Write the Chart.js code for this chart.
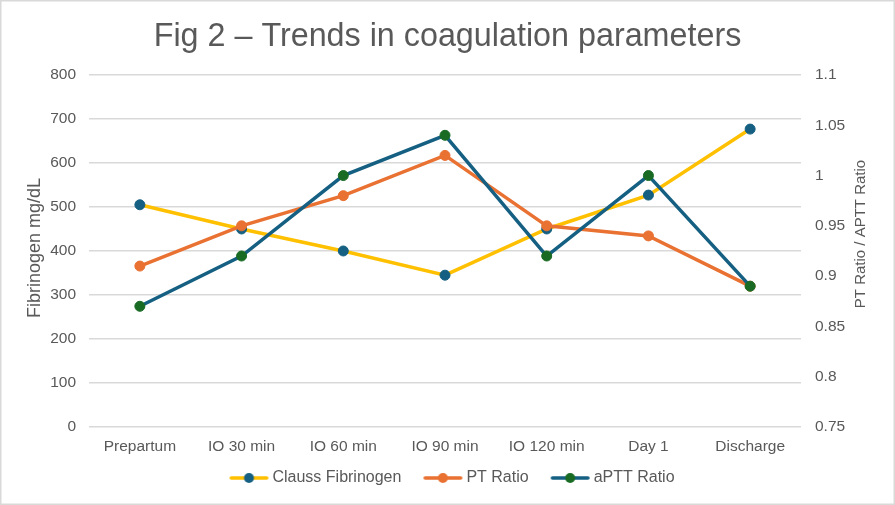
<!DOCTYPE html>
<html>
<head>
<meta charset="utf-8">
<title>Fig 2 – Trends in coagulation parameters</title>
<script src="https://cdn.jsdelivr.net/npm/chart.js@4.4.1/dist/chart.umd.min.js"></script>
<style>
  html, body { margin: 0; padding: 0; background: #fff; }
  #wrap { width: 895px; height: 505px; position: relative; }
</style>
</head>
<body>
<div id="wrap"><canvas id="coag-chart"></canvas></div>
<script>
// values
const timepoints = ["Prepartum", "IO 30 min", "IO 60 min", "IO 90 min", "IO 120 min", "Day 1", "Discharge"];
const fibrinogen = [505, 450, 400, 345, 450, 527, 677];
const ptRatio = [0.91, 0.95, 0.98, 1.02, 0.95, 0.94, 0.89];
const apttRatio = [0.87, 0.92, 1.00, 1.04, 0.92, 1.00, 0.89];
const fibAxis = [0, 800, 100];      // min, max, step
const ratioAxis = [0.75, 1.1, 0.05];

const FONT = "'Liberation Sans', Arial, sans-serif";
const TEXT = "#595959";
const GRID = "#d9d9d9";

// legend symbol: short line with the marker in the middle.
// content sits to the right of the canvas so the legend spacing matches Excel
const legendIcon = (lineColor, dotColor) => {
  const c = document.createElement("canvas");
  c.width = 56;
  c.height = 12;
  const g = c.getContext("2d");
  g.strokeStyle = lineColor;
  g.lineWidth = 3.5;
  g.lineCap = "round";
  g.beginPath();
  g.moveTo(16.75, 6);
  g.lineTo(52.25, 6);
  g.stroke();
  g.fillStyle = dotColor;
  g.beginPath();
  g.arc(34.5, 6, 5, 0, Math.PI * 2);
  g.fill();
  return c;
};

const series = [
  { label: "Clauss Fibrinogen", data: fibrinogen, line: "#FFC000", dot: "#156082", axis: "y", order: 3 },
  { label: "PT Ratio", data: ptRatio, line: "#E97132", dot: "#E97132", axis: "y1", order: 2 },
  { label: "aPTT Ratio", data: apttRatio, line: "#156082", dot: "#196B24", axis: "y1", order: 1 },
];
const icons = series.map((s) => legendIcon(s.line, s.dot));

const frame = {
  id: "frame",
  beforeDraw(chart) {
    const { ctx, width, height } = chart;
    ctx.save();
    ctx.fillStyle = "#fff";
    ctx.fillRect(0, 0, width, height);
    ctx.strokeStyle = GRID;
    ctx.lineWidth = 1.5;
    ctx.strokeRect(0.75, 0.75, width - 1.5, height - 1.5);
    ctx.restore();
  },
  afterDraw(chart) {
    const { ctx } = chart;
    const drawTitle = (text, size, x, y) => {
      ctx.save();
      ctx.translate(x, y);
      ctx.rotate(-Math.PI / 2);
      ctx.font = `${size}px ${FONT}`;
      ctx.fillStyle = TEXT;
      ctx.textAlign = "center";
      ctx.textBaseline = "middle";
      ctx.fillText(text, 0, 0);
      ctx.restore();
    };
    drawTitle("Fibrinogen mg/dL", 18, 35, 248);
    drawTitle("PT Ratio / APTT Ratio", 15, 861, 234);
  },
};

new Chart(document.getElementById("coag-chart"), {
  type: "line",
  data: {
    labels: timepoints,
    datasets: series.map((s) => ({
      label: s.label,
      data: s.data,
      yAxisID: s.axis,
      order: s.order,
      borderColor: s.line,
      backgroundColor: s.dot,
      borderWidth: 3.5,
      tension: 0,
      pointRadius: 5,
      pointHoverRadius: 5,
      pointBackgroundColor: s.dot,
      pointBorderColor: s.dot,
      pointBorderWidth: 1,
    })),
  },
  options: {
    responsive: true,
    maintainAspectRatio: false,
    animation: false,
    layout: { padding: { left: 0, right: 0, top: 0, bottom: 9 } },
    scales: {
      x: {
        offset: true,
        grid: { display: false, drawTicks: false },
        border: { display: false },
        ticks: { color: TEXT, font: { family: FONT, size: 15.5 }, padding: 10, maxRotation: 0, autoSkip: false },
        afterFit: (scale) => { scale.height = 30; },
      },
      y: {
        position: "left",
        min: fibAxis[0],
        max: fibAxis[1],
        ticks: { stepSize: fibAxis[2], color: TEXT, font: { family: FONT, size: 15.5 }, padding: 13 },
        grid: { color: GRID, lineWidth: 1.5, drawTicks: false },
        border: { display: false },
        afterFit: (scale) => { scale.width = 89; },
      },
      y1: {
        position: "right",
        min: ratioAxis[0],
        max: ratioAxis[1],
        ticks: {
          stepSize: ratioAxis[2],
          color: TEXT,
          font: { family: FONT, size: 15.5 },
          padding: 14,
          callback: (v) => String(Number(v.toFixed(2))),
        },
        grid: { display: false, drawTicks: false },
        border: { display: false },
        afterFit: (scale) => { scale.width = 94; },
      },
    },
    plugins: {
      title: {
        display: true,
        text: "Fig 2 – Trends in coagulation parameters",
        color: TEXT,
        font: { family: FONT, size: 32.3, weight: "normal" },
        padding: { top: 18, bottom: 18.2 },
      },
      legend: {
        position: "bottom",
        labels: {
          usePointStyle: true,
          pointStyleWidth: 44,
          padding: 13,
          color: TEXT,
          font: { family: FONT, size: 16 },
          sort: (a, b) => a.datasetIndex - b.datasetIndex,
          generateLabels: (chart) =>
            Chart.defaults.plugins.legend.labels.generateLabels(chart).map((item) => {
              item.pointStyle = icons[item.datasetIndex];
              return item;
            }),
        },
      },
      tooltip: { enabled: false },
    },
  },
  plugins: [frame],
});
</script>
</body>
</html>
